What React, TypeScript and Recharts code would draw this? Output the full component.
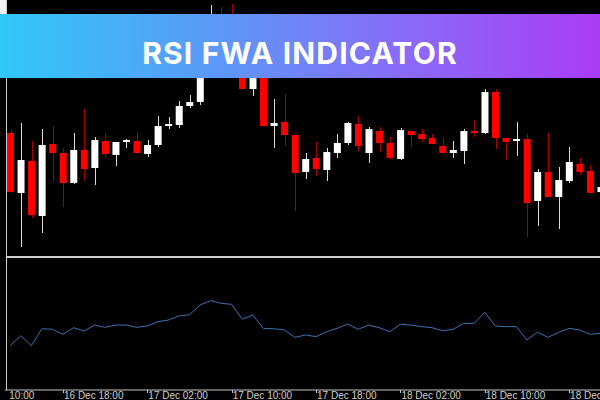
import React from 'react';
import { BarChart, Bar, LineChart, Line, XAxis, YAxis } from 'recharts';

// Candle prices (chart points), one per hourly bar
const opens = [124, 64, 96, 41, 113, 104, 74, 107, 89, 116, 102, 115, 116, 103, 112, 132, 132, 151, 155, 197, 237, 222, 207, 168, 182, 131, 135, 122, 85, 99, 87, 104, 114, 133, 104, 126, 114, 98, 126, 123, 119, 111, 104, 106, 126, 124, 165, 119, 116, 118, 56, 85, 60, 76, 93, 86, 65];
const highs = [128, 134, 116, 128, 131, 109, 124, 148, 120, 124, 115, 118, 125, 117, 141, 140, 156, 162, 207, 252, 250, 253, 217, 197, 187, 158, 163, 122, 104, 115, 109, 123, 135, 141, 130, 130, 120, 129, 126, 128, 123, 119, 116, 128, 137, 168, 168, 119, 135, 123, 88, 124, 90, 110, 99, 92, 72];
const lows = [64, 10, 39, 24, 76, 50, 73, 76, 72, 100, 91, 109, 104, 100, 110, 128, 129, 149, 152, 192, 212, 202, 168, 161, 131, 109, 111, 46, 78, 81, 76, 99, 112, 106, 94, 105, 98, 97, 110, 115, 113, 104, 99, 93, 120, 123, 108, 97, 101, 20, 31, 60, 28, 74, 82, 64, 64];
const closes = [65, 97, 42, 112, 104, 74, 107, 88, 117, 103, 115, 117, 104, 112, 131, 133, 151, 155, 197, 237, 222, 212, 168, 182, 131, 134, 122, 84, 98, 88, 105, 114, 134, 111, 128, 114, 99, 127, 122, 118, 113, 104, 107, 126, 124, 165, 119, 115, 118, 54, 85, 60, 77, 95, 85, 64, 70];

// RSI values for the same bars
const rsiValues = [33.6, 41.1, 33.6, 46.4, 46.0, 42.2, 47.2, 44.7, 49.2, 47.5, 49.2, 49.2, 47.5, 48.5, 51.7, 53.0, 56.1, 57.0, 64.4, 67.7, 65.7, 64.9, 53.6, 56.8, 46.7, 46.4, 45.5, 39.9, 41.7, 40.4, 44.2, 46.7, 50.0, 46.0, 49.2, 47.2, 44.2, 49.8, 49.2, 48.0, 47.2, 44.9, 46.0, 50.5, 50.5, 58.9, 48.5, 48.0, 48.0, 37.9, 43.7, 39.9, 43.7, 46.7, 45.5, 42.2, 43.0];

// Time axis labels and the bar each one sits on
const tickIdx = [0, 5, 13, 21, 29, 37, 45, 53];
const tickLabels = ['10:00', '16 Dec 18:00', '17 Dec 02:00', '17 Dec 10:00', '17 Dec 18:00', '18 Dec 02:00', '18 Dec 10:00', '18 Dec 18:00'];

const candles = opens.map((o, i) => ({
  idx: i,
  open: o,
  high: highs[i],
  low: lows[i],
  close: closes[i],
}));
const rsiData = rsiValues.map((v, i) => ({ idx: i, rsi: v }));

const Candle = (props: any) => {
  const { x, y, width, height, payload } = props;
  if (!payload) return null;
  const { open, close, high, low } = payload;
  const top = Math.min(y, y + height);
  const h = Math.abs(height);
  const ratio = h / (high - low);
  const py = (v: number) => top + (high - v) * ratio;
  const up = close >= open;
  const cx = Math.round(x + width / 2) + 0.5;
  const bTop = py(Math.max(open, close));
  const bBot = py(Math.min(open, close));
  const bh = Math.max(2, bBot - bTop);
  return (
    <g>
      <line x1={cx} x2={cx} y1={top} y2={top + h} stroke={up ? '#d9d9d9' : '#a30000'} strokeWidth={1} />
      <rect x={x} y={bTop} width={width} height={bh} fill={up ? '#ffffff' : '#ff0000'} />
    </g>
  );
};

const AxisTick = (props: any) => {
  const { x, y, payload } = props;
  const k = tickIdx.indexOf(payload.value);
  if (k < 0) return null;
  const label = tickLabels[k];
  const first = k === 0;
  const tx = Math.round(x) + 0.5;
  return (
    <g>
      {!first && <line x1={tx} x2={tx} y1={y} y2={y + 3} stroke="#c8c8c8" strokeWidth={1} />}
      <text
        x={first ? x - 1 : x + 1}
        y={y + 8.5}
        fill="#cfcfcf"
        fontSize={10}
        fontFamily="'Liberation Sans', Arial, sans-serif"
        textAnchor="start"
      >
        {label}
      </text>
    </g>
  );
};

export default function App() {
  return (
    <div
      style={{
        position: 'fixed',
        left: 0,
        top: 0,
        width: 600,
        height: 400,
        background: '#000',
        overflow: 'hidden',
      }}
    >
      <div style={{ position: 'absolute', left: 0, top: 0 }}>
        <BarChart width={607} height={257} data={candles} margin={{ top: 0, right: 1, bottom: 0, left: 5 }}>
          <XAxis dataKey="idx" hide />
          <YAxis hide type="number" domain={[0, 257]} allowDataOverflow />
          <Bar
            dataKey={(d: any) => [d.low, d.high]}
            barSize={7}
            shape={<Candle />}
            isAnimationActive={false}
          />
        </BarChart>
      </div>
      <div style={{ position: 'absolute', left: 0, top: 258 }}>
        <LineChart width={607} height={142} data={rsiData} margin={{ top: 0, right: 1, bottom: 0, left: 5 }}>
          <XAxis
            dataKey="idx"
            scale="band"
            ticks={tickIdx}
            interval={0}
            height={10}
            tickSize={0}
            tickMargin={0}
            tickLine={false}
            axisLine={{ stroke: '#c8c8c8', strokeWidth: 1 }}
            tick={<AxisTick />}
          />
          <YAxis hide type="number" domain={[0, 100]} allowDataOverflow />
          <Line
            type="linear"
            dataKey="rsi"
            stroke="#3b71b3"
            strokeWidth={1}
            dot={false}
            isAnimationActive={false}
          />
        </LineChart>
      </div>
      {/* frame lines */}
      <div style={{ position: 'absolute', left: 6, top: 0, width: 1, height: 390, background: '#c8c8c8' }} />
      <div style={{ position: 'absolute', left: 6, top: 256, width: 594, height: 2, background: '#cfcfcf' }} />
      <div style={{ position: 'absolute', left: 0, top: 0, width: 6, height: 14, background: '#f2f2f2' }} />
      {/* title banner */}
      <div
        style={{
          position: 'absolute',
          left: 0,
          top: 14,
          width: 600,
          height: 64,
          background: 'linear-gradient(90deg, #31c8f7 0%, #5a9af8 35%, #8a6af7 68%, #aa3cf6 100%)',
          display: 'flex',
          alignItems: 'center',
          justifyContent: 'center',
        }}
      >
        <span
          style={{
            color: '#ffffff',
            fontFamily: "Inter, 'Open Sans', sans-serif",
            fontWeight: 700,
            fontSize: 30,
            letterSpacing: 1.2,
            marginTop: 14,
            lineHeight: '30px',
          }}
        >
          RSI FWA INDICATOR
        </span>
      </div>
    </div>
  );
}
